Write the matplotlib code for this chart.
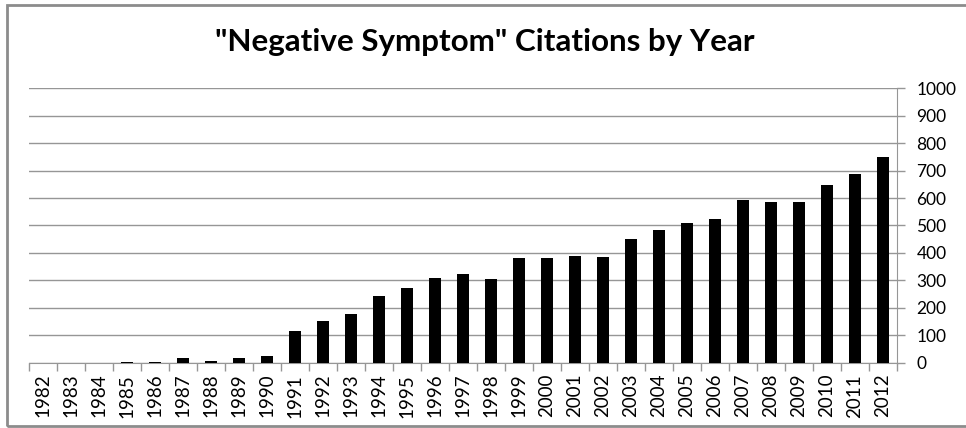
"""Bar chart of yearly "Negative Symptom" citation counts, 1982-2012."""
import matplotlib

matplotlib.use("Agg")
import matplotlib.pyplot as plt
from matplotlib.patches import Rectangle

years = [str(y) for y in range(1982, 2013)]
citations = [
    0, 0, 0, 3, 3, 17, 7, 17, 24, 117,
    153, 179, 243, 271, 309, 322, 305, 380, 380, 388,
    384, 452, 484, 510, 524, 592, 586, 586, 646, 688,
    750,
]
y_ticks = list(range(0, 1001, 100))

GRID = "#969696"
FONT = ["Lato", "DejaVu Sans"]

fig = plt.figure(figsize=(9.66, 4.28), dpi=100)
ax = fig.add_axes([0.030, 0.1526, 0.8986, 0.6411])

x = range(len(years))
ax.bar(x, citations, width=0.4, color="black", zorder=3)

ax.set_xlim(-0.5, len(years) - 0.5)
ax.set_ylim(0, 1000)

# value axis on the right, like the spreadsheet original
ax.yaxis.tick_right()
ax.set_yticks(y_ticks)
ax.set_yticklabels([str(v) for v in y_ticks], family=FONT, fontsize=12.5)
ax.tick_params(axis="y", length=6, width=1, color=GRID, pad=8)
ax.grid(axis="y", color=GRID, linewidth=1, zorder=0)

# category ticks sit between the bars
ax.set_xticks([i - 0.5 for i in range(len(years) + 1)], minor=True)
ax.set_xticks(list(x))
ax.set_xticklabels(years, rotation=90, family=FONT, fontsize=13.5)
ax.tick_params(axis="x", which="major", length=0, pad=8)
ax.tick_params(axis="x", which="minor", length=6, width=1, color=GRID)

for side in ("top", "left"):
    ax.spines[side].set_visible(False)
ax.spines["right"].set_color(GRID)
ax.spines["bottom"].set_color(GRID)

fig.text(0.502, 0.902, '"Negative Symptom" Citations by Year', ha="center", va="center",
         family=FONT, weight="bold", fontsize=22.6)

# outer chart frame
fig.patches.append(Rectangle((0.007, 0.004), 1.1, 0.984, transform=fig.transFigure,
                             fill=False, edgecolor="#8c8c8c", linewidth=2))

fig.savefig("out.png", dpi=100)
